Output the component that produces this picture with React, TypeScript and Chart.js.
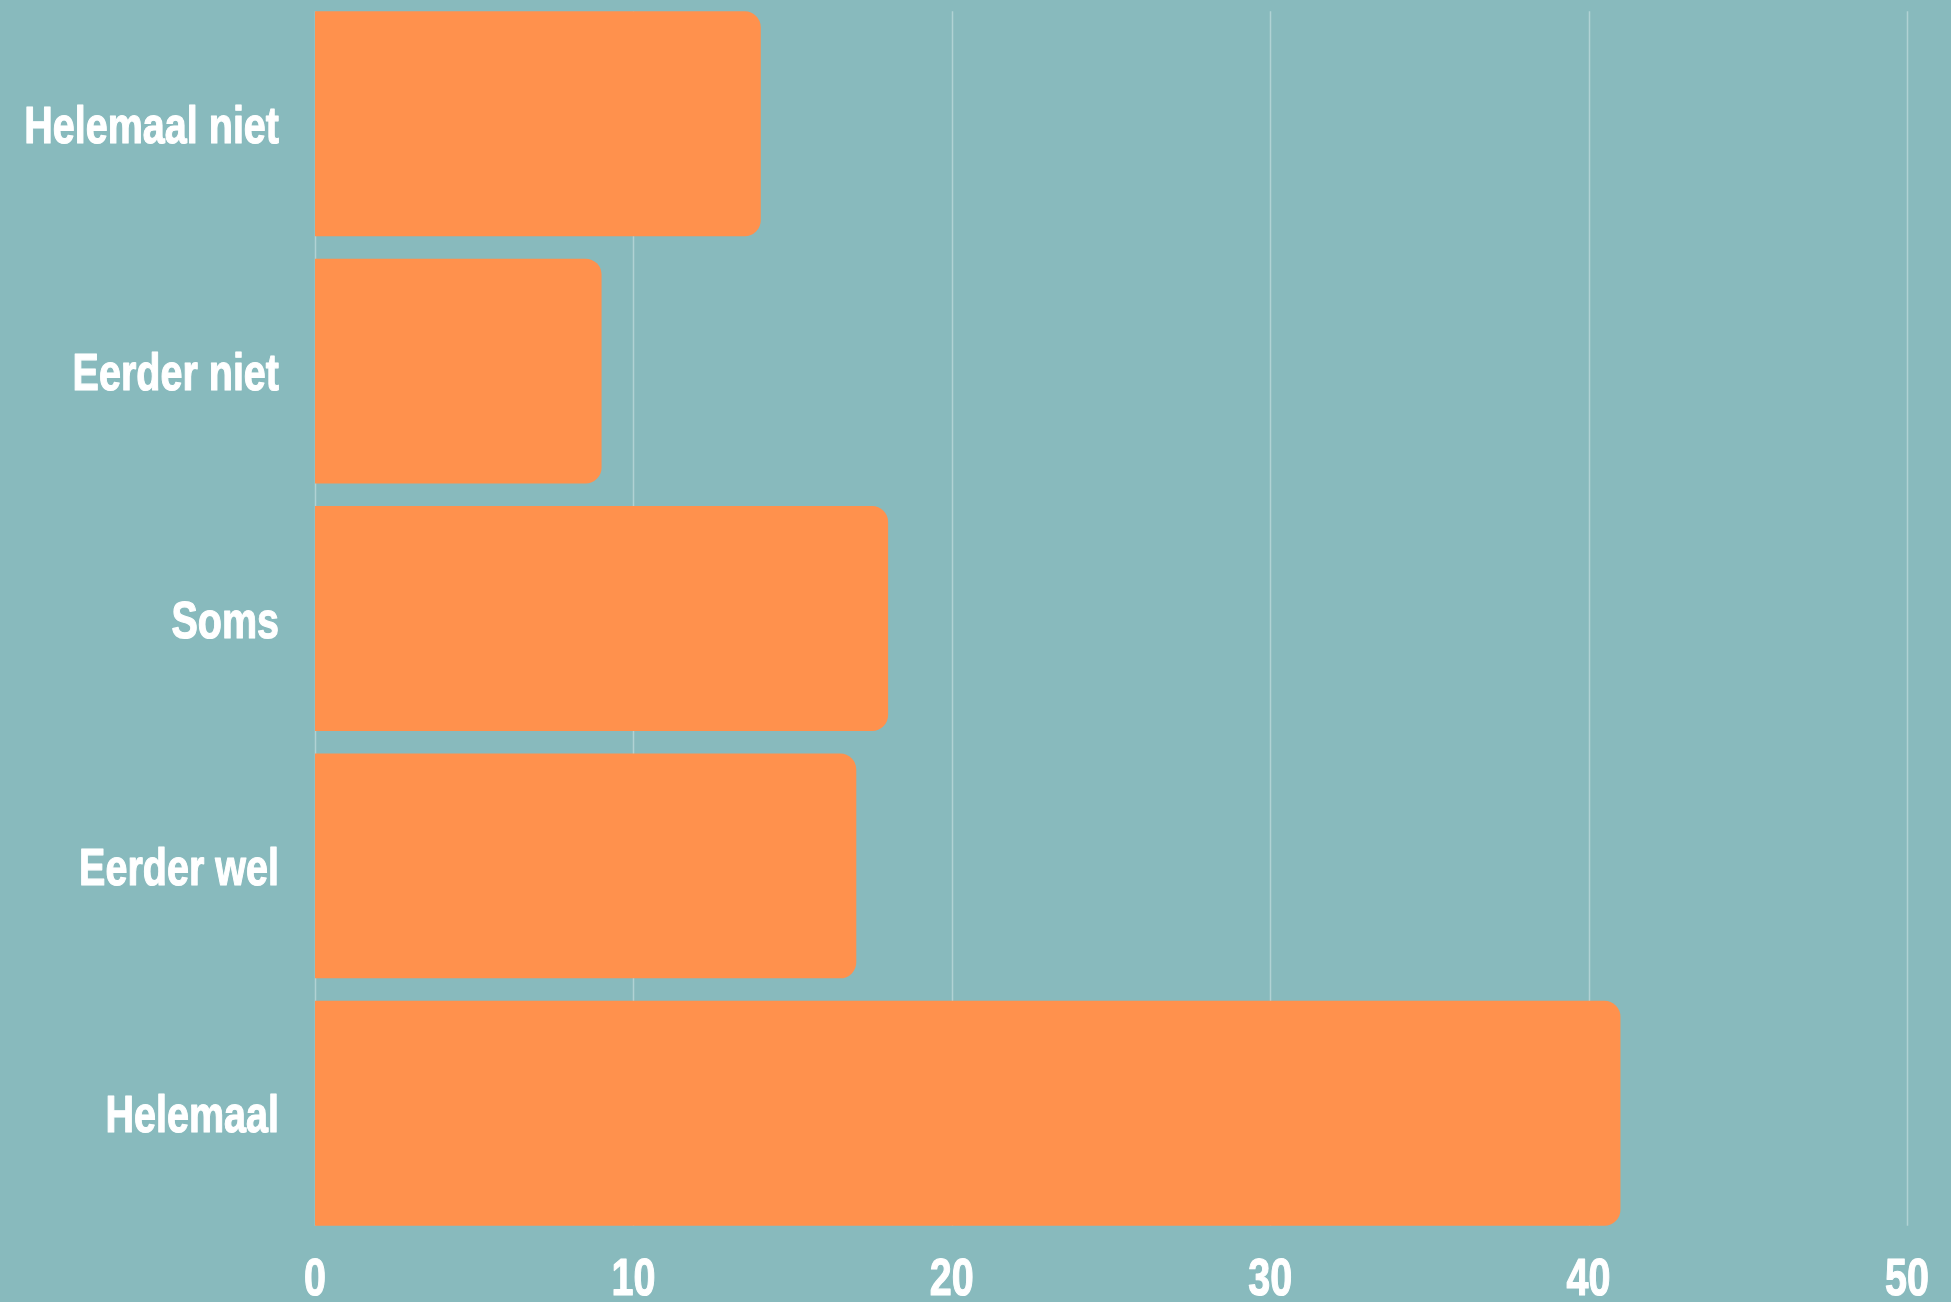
import React, { useEffect, useRef } from "react";
import { Chart, registerables } from "chart.js";

Chart.register(...registerables);

const categories = ["Helemaal niet", "Eerder niet", "Soms", "Eerder wel", "Helemaal"];
const values = [14, 9, 18, 17, 41];
const xTicks = [0, 10, 20, 30, 40, 50];

const BG = "#88BABD";
const BAR = "#FF914D";
const FONT = "bold 52px 'Liberation Sans', Arial, sans-serif";
const SX = 0.76;

const gridPlugin = {
  id: "barGrid",
  beforeDatasetsDraw(chart: any) {
    const els = chart.getDatasetMeta(0).data;
    if (!els.length) return;
    let top = Infinity;
    let bottom = -Infinity;
    els.forEach((el: any) => {
      top = Math.min(top, el.y - el.height / 2);
      bottom = Math.max(bottom, el.y + el.height / 2);
    });
    const xs = chart.scales.x;
    const ctx = chart.ctx;
    ctx.save();
    ctx.strokeStyle = "rgba(255,255,255,0.35)";
    ctx.lineWidth = 1.5;
    xTicks.forEach((t) => {
      const x = Math.round(xs.getPixelForValue(t)) + 0.5;
      ctx.beginPath();
      ctx.moveTo(x, top);
      ctx.lineTo(x, bottom);
      ctx.stroke();
    });
    ctx.restore();
  },
};

function drawText(ctx: any, text: string, x: number, y: number, align: string) {
  ctx.save();
  ctx.translate(x, y);
  ctx.scale(SX, 1);
  ctx.textAlign = align;
  ctx.fillText(text, 0, 0);
  ctx.strokeText(text, 0, 0);
  ctx.restore();
}

const labelPlugin = {
  id: "narrowLabels",
  afterDraw(chart: any) {
    const ctx = chart.ctx;
    const xs = chart.scales.x;
    const ys = chart.scales.y;
    ctx.save();
    ctx.fillStyle = "#ffffff";
    ctx.strokeStyle = "#ffffff";
    ctx.lineWidth = 1.2;
    ctx.lineJoin = "round";
    ctx.font = FONT;
    ctx.textBaseline = "alphabetic";
    categories.forEach((c, i) => {
      drawText(ctx, c, 279, ys.getPixelForValue(i) + 19, "right");
    });
    xTicks.forEach((v) => {
      drawText(ctx, String(v), xs.getPixelForValue(v), chart.height - 7, "center");
    });
    ctx.restore();
  },
};

export default function App() {
  const ref = useRef<HTMLCanvasElement>(null);
  useEffect(() => {
    document.body.style.margin = "0";
    document.body.style.background = BG;
    const chart = new Chart(ref.current as HTMLCanvasElement, {
      type: "bar",
      data: {
        labels: categories,
        datasets: [
          {
            data: values,
            backgroundColor: BAR,
            borderRadius: 16,
            borderSkipped: "start",
            barPercentage: 0.909,
            categoryPercentage: 1,
          },
        ],
      },
      options: {
        indexAxis: "y",
        responsive: false,
        animation: false,
        layout: { padding: { top: 0, right: 44, left: 0, bottom: 0 } },
        plugins: { legend: { display: false }, tooltip: { enabled: false } },
        scales: {
          x: {
            min: 0,
            max: 50,
            afterBuildTicks: (axis: any) => {
              axis.ticks = xTicks.map((v) => ({ value: v }));
            },
            afterFit: (axis: any) => {
              axis.height = 65;
              axis.paddingLeft = 0;
              axis.paddingRight = 0;
            },
            grid: { display: false },
            border: { display: false },
            ticks: { display: false },
          },
          y: {
            afterFit: (axis: any) => {
              axis.width = 315;
              axis.paddingTop = 0;
              axis.paddingBottom = 0;
            },
            grid: { display: false },
            border: { display: false },
            ticks: { display: false },
          },
        },
      },
      plugins: [gridPlugin, labelPlugin],
    } as any);
    return () => chart.destroy();
  }, []);
  return (
    <div style={{ width: 1951, height: 1302, background: BG }}>
      <canvas ref={ref} width={1951} height={1302} style={{ display: "block" }} />
    </div>
  );
}
